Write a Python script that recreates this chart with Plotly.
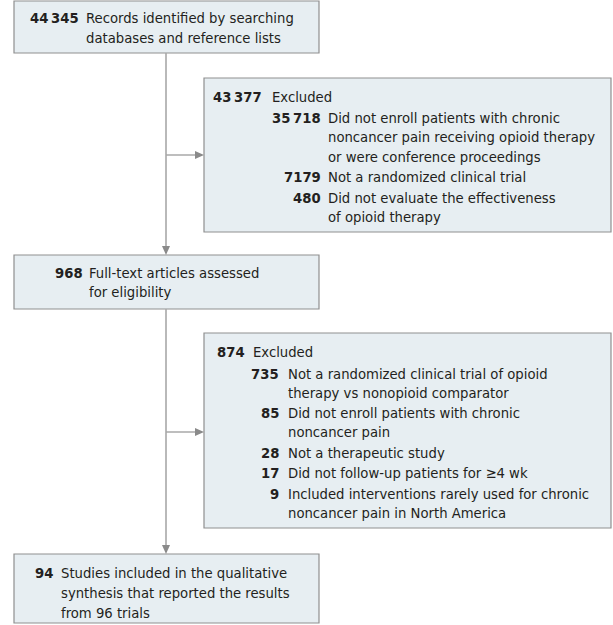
import plotly.graph_objects as go

# ---------------- data ----------------
main_counts = ["44\u2009345", "968", "94"]
main_labels = [
    ["Records identified by searching", "databases and reference lists"],
    ["Full-text articles assessed", "for eligibility"],
    ["Studies included in the qualitative", "synthesis that reported the results", "from 96 trials"],
]
excl_totals = ["43\u2009377", "874"]
excl_total_label = "Excluded"
excl1_counts = ["35\u2009718", "7179", "480"]
excl1_reasons = [
    ["Did not enroll patients with chronic", "noncancer pain receiving opioid therapy", "or were conference proceedings"],
    ["Not a randomized clinical trial"],
    ["Did not evaluate the effectiveness", "of opioid therapy"],
]
excl2_counts = ["735", "85", "28", "17", "9"]
excl2_reasons = [
    ["Not a randomized clinical trial of opioid", "therapy vs nonopioid comparator"],
    ["Did not enroll patients with chronic", "noncancer pain"],
    ["Not a therapeutic study"],
    ["Did not follow-up patients for \u22654 wk"],
    ["Included interventions rarely used for chronic", "noncancer pain in North America"],
]

# ---------------- layout constants ----------------
W, H = 613, 625
FONT = "DejaVu Sans Condensed, Liberation Sans Narrow, Liberation Sans, sans-serif"
FS = 14.7
TXT = "#231f20"
FILL = "#e7eef2"
BORDER = "#8f8f8f"
LINE = "#a8a8a8"
HEAD = "#8a8a8a"
PAD = 2  # annotation inner padding

main_x0, main_x1 = 14, 319
side_x0, side_x1 = 204, 611
stem_x = 166
main_boxes_y = [(1, 53), (255, 309), (554, 623)]
side_boxes_y = [(78, 232), (333, 528)]
branch_y = [155, 432]

# text placement per main box: (number right edge, text left, first line y, line step)
main_text = [(79, 86, 17, 20), (83, 89, 272, 19.5), (53, 61, 572, 20)]
side_total = [(262, 272, 96), (245, 253, 351)]
side_items = [
    (321, 328, [117, 176, 197], 19.5),
    (279, 288, [373, 412, 452, 472, 493], 19.5),
]

fig = go.Figure()
shapes = []
ann = []


def box(x0, y0, x1, y1):
    shapes.append(dict(type="rect", x0=x0, x1=x1, y0=y0, y1=y1, xref="x", yref="y",
                       fillcolor=FILL, line=dict(color=BORDER, width=1.2), layer="below"))


def seg(x0, y0, x1, y1):
    shapes.append(dict(type="line", x0=x0, x1=x1, y0=y0, y1=y1, xref="x", yref="y",
                       line=dict(color=LINE, width=1.6)))


def head_down(x, y):
    shapes.append(dict(type="path", path=f"M {x-4},{y-9} L {x+4},{y-9} L {x},{y} Z",
                       xref="x", yref="y", fillcolor=HEAD, line=dict(width=0)))


def head_right(x, y):
    shapes.append(dict(type="path", path=f"M {x-9},{y-4} L {x-9},{y+4} L {x},{y} Z",
                       xref="x", yref="y", fillcolor=HEAD, line=dict(width=0)))


def txt(x, y, s, anchor, bold=False):
    xx = x + PAD if anchor == "right" else x - PAD
    ann.append(dict(x=xx, y=y, xref="x", yref="y", text=f"<b>{s}</b>" if bold else s,
                    showarrow=False, xanchor=anchor, yanchor="middle",
                    font=dict(family=FONT, size=FS, color=TXT)))


# connectors
seg(stem_x, main_boxes_y[0][1], stem_x, main_boxes_y[1][0] - 2)
head_down(stem_x, main_boxes_y[1][0])
seg(stem_x, main_boxes_y[1][1], stem_x, main_boxes_y[2][0] - 2)
head_down(stem_x, main_boxes_y[2][0])
for by in branch_y:
    seg(stem_x, by, side_x0 - 2, by)
    head_right(side_x0, by)

# boxes
for (y0, y1) in main_boxes_y:
    box(main_x0, y0, main_x1, y1)
for (y0, y1) in side_boxes_y:
    box(side_x0, y0, side_x1, y1)

# main box text
for cnt, lines, (nx, tx, y, step) in zip(main_counts, main_labels, main_text):
    txt(nx, y, cnt, "right", bold=True)
    for i, l in enumerate(lines):
        txt(tx, y + i * step, l, "left")

# side box text
for tot, (nx, tx, y) in zip(excl_totals, side_total):
    txt(nx, y, tot, "right", bold=True)
    txt(tx, y, excl_total_label, "left")

for counts, reasons, (nx, tx, ys, step) in zip([excl1_counts, excl2_counts],
                                                [excl1_reasons, excl2_reasons], side_items):
    for cnt, lines, y in zip(counts, reasons, ys):
        txt(nx, y, cnt, "right", bold=True)
        for i, l in enumerate(lines):
            txt(tx, y + i * step, l, "left")

fig.update_layout(
    width=W, height=H, margin=dict(l=0, r=0, t=0, b=0),
    paper_bgcolor="white", plot_bgcolor="white",
    xaxis=dict(range=[0, W], visible=False, fixedrange=True),
    yaxis=dict(range=[H, 0], visible=False, fixedrange=True),
    shapes=shapes, annotations=ann, showlegend=False,
)
fig.write_html("out.html", config={"displayModeBar": False},
               post_script="document.body.style.margin='0';")
